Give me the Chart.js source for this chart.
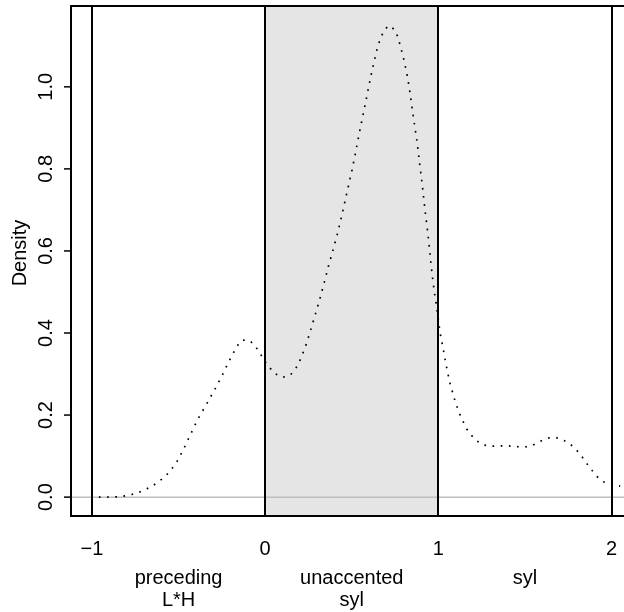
<!DOCTYPE html>
<html>
<head>
<meta charset="utf-8">
<script src="https://cdn.jsdelivr.net/npm/chart.js@4/dist/chart.umd.min.js"></script>
<style>
  html, body { margin: 0; padding: 0; background: #ffffff; }
  #wrap { width: 624px; height: 612px; position: relative; }
</style>
</head>
<body>
<div id="wrap"><canvas id="chart"></canvas></div>
<script>
// Kernel density of relative position (in syllables)
const densityX = [
  -0.96, -0.934, -0.835, -0.741, -0.654, -0.577, -0.516, -0.472, -0.389, -0.342,
  -0.294, -0.250, -0.208, -0.163, -0.131, -0.087, -0.054, -0.027, -0.004, 0.025,
  0.058, 0.100, 0.144, 0.175, 0.198, 0.233, 0.262, 0.290, 0.316, 0.341,
  0.365, 0.391, 0.416, 0.439, 0.460, 0.481, 0.502, 0.521, 0.539, 0.558,
  0.577, 0.596, 0.616, 0.637, 0.652, 0.664, 0.681, 0.710, 0.747, 0.766,
  0.779, 0.791, 0.803, 0.822, 0.837, 0.850, 0.864, 0.878, 0.889, 0.901,
  0.912, 0.922, 0.934, 0.945, 0.954, 0.964, 0.976, 0.991, 0.997, 1.010,
  1.028, 1.045, 1.064, 1.090, 1.120, 1.161, 1.188, 1.222, 1.263, 1.309,
  1.357, 1.405, 1.453, 1.501, 1.547, 1.588, 1.634, 1.680, 1.726, 1.767,
  1.801, 1.832, 1.859, 1.888, 1.919, 1.956, 2.002, 2.050
];
const densityY = [
  0.000, 0.000, 0.001, 0.009, 0.026, 0.050, 0.081, 0.116, 0.190, 0.224,
  0.260, 0.295, 0.332, 0.368, 0.383, 0.381, 0.366, 0.349, 0.332, 0.316,
  0.301, 0.292, 0.297, 0.312, 0.330, 0.367, 0.406, 0.446, 0.483, 0.523,
  0.562, 0.601, 0.640, 0.680, 0.719, 0.759, 0.798, 0.838, 0.877, 0.917,
  0.956, 0.996, 1.037, 1.075, 1.102, 1.114, 1.133, 1.149, 1.140, 1.122,
  1.102, 1.083, 1.063, 1.024, 0.984, 0.943, 0.903, 0.864, 0.823, 0.783,
  0.743, 0.703, 0.662, 0.622, 0.583, 0.543, 0.503, 0.461, 0.442, 0.401,
  0.361, 0.322, 0.283, 0.243, 0.205, 0.168, 0.152, 0.137, 0.127, 0.124,
  0.125, 0.125, 0.123, 0.122, 0.127, 0.136, 0.144, 0.145, 0.138, 0.127,
  0.113, 0.097, 0.081, 0.065, 0.049, 0.037, 0.031, 0.027
];

// Syllable boundaries, the shaded syllable, and axis labels
const boundaries = [-1, 0, 1, 2];
const shadedSpan = [0, 1];
const xTickValues = [-1, 0, 1, 2];
const xTickLabels = ["\u22121", "0", "1", "2"];
const yTickValues = [0, 0.2, 0.4, 0.6, 0.8, 1.0];
const yTickLabels = ["0.0", "0.2", "0.4", "0.6", "0.8", "1.0"];
const regionCenters = [-0.5, 0.5, 1.5];
const regionLabels = [["preceding", "L*H"], ["unaccented", "syl"], ["syl"]];
const yAxisTitle = "Density";

const FONT = '20px "Liberation Sans", Arial, sans-serif';

const points = densityX.map((x, i) => ({ x: x, y: densityY[i] }));

// Background: shaded syllable, boundary lines, zero line
const underlay = {
  id: 'underlay',
  beforeDatasetsDraw(chart) {
    const { ctx, chartArea: a, scales: { x, y } } = chart;
    ctx.save();
    ctx.fillStyle = '#e5e5e5';
    const s0 = x.getPixelForValue(shadedSpan[0]);
    const s1 = x.getPixelForValue(shadedSpan[1]);
    ctx.fillRect(s0, a.top, s1 - s0, a.bottom - a.top);

    ctx.strokeStyle = '#bebebe';
    ctx.lineWidth = 1.5;
    const y0 = y.getPixelForValue(0);
    ctx.beginPath();
    ctx.moveTo(a.left, y0);
    ctx.lineTo(a.right, y0);
    ctx.stroke();

    ctx.strokeStyle = '#000000';
    ctx.lineWidth = 2;
    boundaries.forEach(b => {
      const px = Math.round(x.getPixelForValue(b));
      ctx.beginPath();
      ctx.moveTo(px, a.top);
      ctx.lineTo(px, a.bottom);
      ctx.stroke();
    });
    ctx.restore();
  }
};

// Foreground: plot frame, ticks and all text
const frame = {
  id: 'frame',
  afterDraw(chart) {
    const { ctx, chartArea: a, scales: { x, y } } = chart;
    ctx.save();
    ctx.strokeStyle = '#000000';
    ctx.lineWidth = 2;
    ctx.beginPath();
    ctx.moveTo(a.right + 10, a.top);
    ctx.lineTo(a.left, a.top);
    ctx.lineTo(a.left, a.bottom);
    ctx.lineTo(a.right + 10, a.bottom);
    ctx.stroke();

    ctx.fillStyle = '#000000';
    ctx.font = FONT;

    // y ticks and rotated labels
    ctx.lineWidth = 1.5;
    yTickValues.forEach((v, i) => {
      const py = y.getPixelForValue(v);
      ctx.beginPath();
      ctx.moveTo(a.left, py);
      ctx.lineTo(a.left - 7, py);
      ctx.stroke();
      ctx.save();
      ctx.translate(46, py);
      ctx.rotate(-Math.PI / 2);
      ctx.textAlign = 'center';
      ctx.textBaseline = 'middle';
      ctx.fillText(yTickLabels[i], 0, 0);
      ctx.restore();
    });

    ctx.save();
    ctx.translate(20, 253);
    ctx.rotate(-Math.PI / 2);
    ctx.textAlign = 'center';
    ctx.textBaseline = 'middle';
    ctx.fillText(yAxisTitle, 0, 0);
    ctx.restore();

    // x tick labels
    ctx.textAlign = 'center';
    ctx.textBaseline = 'middle';
    xTickValues.forEach((v, i) => {
      ctx.fillText(xTickLabels[i], x.getPixelForValue(v), 549);
    });

    // region labels beneath
    regionCenters.forEach((c, i) => {
      const px = x.getPixelForValue(c);
      regionLabels[i].forEach((line, j) => {
        ctx.fillText(line, px, 578 + j * 22);
      });
    });
    ctx.restore();
  }
};

new Chart(document.getElementById('chart'), {
  type: 'line',
  data: {
    datasets: [{
      data: points,
      borderColor: '#000000',
      borderWidth: 1.7,
      borderDash: [1.7, 6.5],
      pointRadius: 0,
      tension: 0,
      fill: false
    }]
  },
  options: {
    responsive: true,
    maintainAspectRatio: false,
    animation: false,
    layout: { padding: { left: 71, top: 6, right: 0, bottom: 96 } },
    plugins: { legend: { display: false }, tooltip: { enabled: false } },
    scales: {
      x: { type: 'linear', min: -1.121, max: 2.072, display: false },
      y: { type: 'linear', min: -0.046, max: 1.197, display: false }
    }
  },
  plugins: [underlay, frame]
});
</script>
</body>
</html>
